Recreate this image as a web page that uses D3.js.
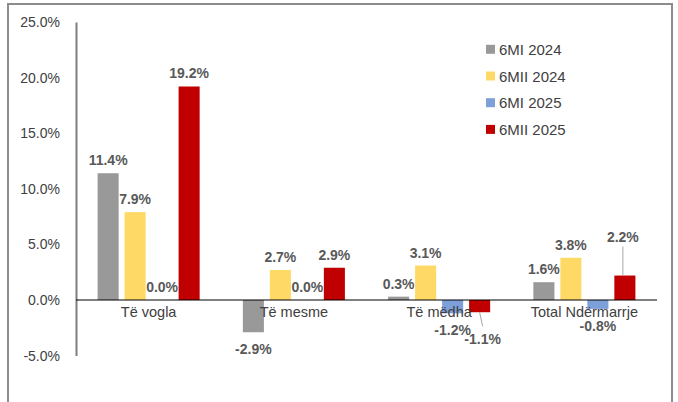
<!DOCTYPE html>
<html>
<head>
<meta charset="utf-8">
<script src="https://cdn.jsdelivr.net/npm/d3@7"></script>
<style>
  body { margin: 0; background: #fff; }
  svg { display: block; font-family: "Liberation Sans", Arial, sans-serif; }
</style>
</head>
<body>
<div id="chart"></div>
<script>
// data
const categories = ["Të vogla", "Të mesme", "Të mëdha", "Total Ndërmarrje"];
const seriesNames = ["6MI 2024", "6MII 2024", "6MI 2025", "6MII 2025"];
const s6MI2024 = [11.4, -2.9, 0.3, 1.6];
const s6MII2024 = [7.9, 2.7, 3.1, 3.8];
const s6MI2025 = [0.0, 0.0, -1.2, -0.8];
const s6MII2025 = [19.2, 2.9, -1.1, 2.2];
const yTicks = [-5, 0, 5, 10, 15, 20, 25];

const colors = ["#999999", "#FFD966", "#7EA0DA", "#C00000"];
const allSeries = [s6MI2024, s6MII2024, s6MI2025, s6MII2025];

const width = 678, height = 402;

const svg = d3.select("#chart").append("svg")
  .attr("width", width)
  .attr("height", height);

// outer frame (no bottom edge visible)
svg.append("path")
  .attr("d", "M8,402 L8,4 L672,4 L672,402")
  .attr("fill", "none")
  .attr("stroke", "#8c8c8c")
  .attr("stroke-width", 2);

const x0 = d3.scaleBand()
  .domain(categories)
  .range([76, 657]);

const x1 = d3.scaleBand()
  .domain(seriesNames)
  .range([0, x0.bandwidth()])
  .paddingInner(0.22)
  .paddingOuter(0.8);

const y = d3.scaleLinear()
  .domain([-5, 25])
  .range([355.6, 22]);

// y axis
const yAxis = svg.append("g")
  .attr("transform", "translate(76,0)")
  .call(d3.axisLeft(y).tickValues(yTicks).tickSize(0).tickPadding(16)
    .tickFormat(d => d.toFixed(1) + "%"));
yAxis.select(".domain").attr("stroke", "#7f7f7f").attr("stroke-width", 2);
yAxis.selectAll("text")
  .attr("font-size", 14)
  .attr("fill", "#404040")
  .attr("font-family", "Liberation Sans, Arial, sans-serif");

// bars
const rows = [];
categories.forEach((c, ci) => {
  seriesNames.forEach((s, si) => {
    rows.push({ cat: c, ser: s, si: si, v: allSeries[si][ci] });
  });
});

svg.append("g").selectAll("rect")
  .data(rows)
  .enter()
  .append("rect")
  .attr("x", d => x0(d.cat) + x1(d.ser))
  .attr("y", d => y(Math.max(0, d.v)))
  .attr("width", x1.bandwidth())
  .attr("height", d => Math.abs(y(d.v) - y(0)))
  .attr("fill", d => colors[d.si]);

// zero line
svg.append("line")
  .attr("x1", 76).attr("x2", 657)
  .attr("y1", y(0)).attr("y2", y(0))
  .attr("stroke", "#000")
  .attr("stroke-width", 1.2);

// category labels
svg.append("g").selectAll("text")
  .data(categories)
  .enter()
  .append("text")
  .attr("x", d => x0(d) + x0.bandwidth() / 2)
  .attr("y", y(0) + 17)
  .attr("text-anchor", "middle")
  .attr("font-size", 14.5)
  .attr("fill", "#404040")
  .text(d => d);

// labels that Excel pushed away from the bar, with leader lines
function labelShift(d) {
  if (d.cat === "Të mëdha" && d.ser === "6MII 2025") return 10;
  if (d.cat === "Total Ndërmarrje" && d.ser === "6MII 2025") return -26;
  return 0;
}

const labels = svg.append("g").selectAll("g")
  .data(rows)
  .enter()
  .append("g");

labels.filter(d => labelShift(d) !== 0)
  .append("line")
  .attr("x1", d => x0(d.cat) + x1(d.ser) + x1.bandwidth() / 2 - (d.v < 0 ? 0 : 2))
  .attr("x2", d => x0(d.cat) + x1(d.ser) + x1.bandwidth() / 2 + (d.v < 0 ? 3 : -2))
  .attr("y1", d => y(d.v))
  .attr("y2", d => d.v < 0 ? y(d.v) + 14 : y(d.v) - 29)
  .attr("stroke", "#a6a6a6")
  .attr("stroke-width", 1);

labels.append("text")
  .attr("x", d => x0(d.cat) + x1(d.ser) + x1.bandwidth() / 2 + (labelShift(d) > 0 ? 3 : labelShift(d) < 0 ? -2 : 0))
  .attr("y", d => (d.v < 0 ? y(d.v) + 22 : y(d.v) - 8) + labelShift(d))
  .attr("text-anchor", "middle")
  .attr("font-size", 14)
  .attr("font-weight", "bold")
  .attr("fill", "#595959")
  .text(d => d.v.toFixed(1) + "%");

// legend
const legend = svg.append("g").selectAll("g")
  .data(seriesNames)
  .enter()
  .append("g")
  .attr("transform", (d, i) => "translate(486," + (49.3 + i * 26.7) + ")");

legend.append("rect")
  .attr("x", 0).attr("y", -4.5)
  .attr("width", 9).attr("height", 9)
  .attr("fill", (d, i) => colors[i]);

legend.append("text")
  .attr("x", 13)
  .attr("y", 5.5)
  .attr("font-size", 15)
  .attr("fill", "#404040")
  .text(d => d);
</script>
</body>
</html>
